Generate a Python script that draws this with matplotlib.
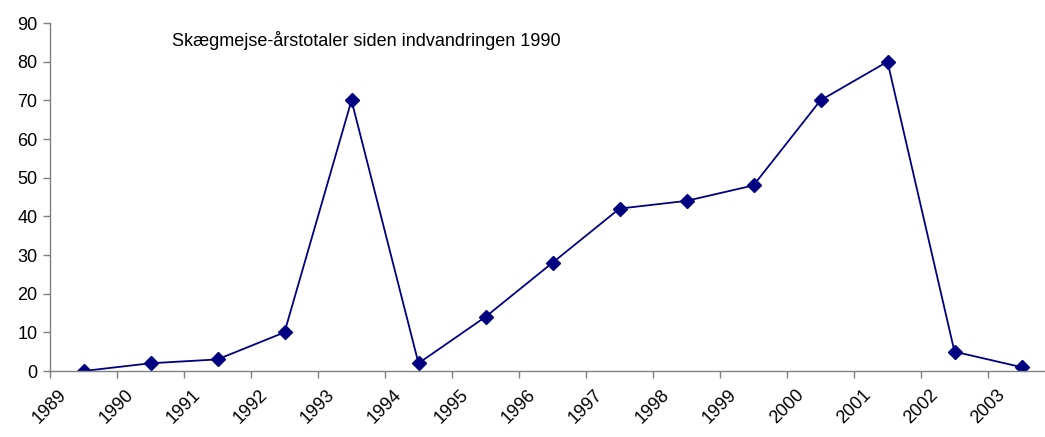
import matplotlib
matplotlib.use("Agg")
import matplotlib.pyplot as plt
import numpy as np

years = ["1989", "1990", "1991", "1992", "1993", "1994", "1995", "1996",
         "1997", "1998", "1999", "2000", "2001", "2002", "2003"]
counts = [0, 2, 3, 10, 70, 2, 14, 28, 42, 44, 48, 70, 80, 5, 1]
title = "Skægmejse-årstotaler siden indvandringen 1990"

plt.rcParams['font.family'] = ['Liberation Sans', 'DejaVu Sans']

W, H = 1045, 437
fig = plt.figure(figsize=(W / 100, H / 100), dpi=100)
ax = fig.add_axes([50 / W, (H - 371) / H, 1005 / W, 348 / H])

x = np.arange(len(years)) + 0.5
ax.plot(x, counts, color='#000080', lw=1.3, marker='D', markersize=7,
        markerfacecolor='#000080', markeredgecolor='#000080')

ax.set_xlim(0, len(years))
ax.set_ylim(0, 90)
ax.set_yticks(np.arange(0, 91, 10))
ax.set_xticks(np.arange(len(years)))
ax.set_xticklabels(years, rotation=45, ha='center', fontsize=13)
ax.tick_params(axis='y', labelsize=13, length=5, width=1, color='#808080', pad=4)
ax.tick_params(axis='x', length=5, width=1, color='#808080', pad=6)

for s in ['top', 'right']:
    ax.spines[s].set_visible(False)
for s in ['left', 'bottom']:
    ax.spines[s].set_color('#808080')
    ax.spines[s].set_linewidth(1)

fig.text(172 / W, 1 - 40 / H, title, fontsize=13, va='center', ha='left')

fig.savefig("out.png", dpi=100)
